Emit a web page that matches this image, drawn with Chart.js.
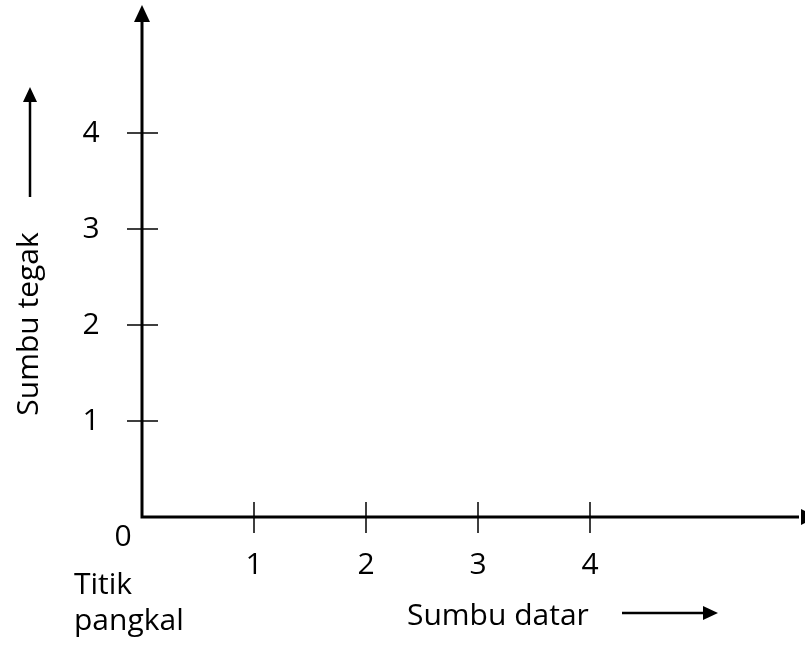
<!DOCTYPE html>
<html>
<head>
<meta charset="utf-8">
<script src="https://cdn.jsdelivr.net/npm/chart.js@4"></script>
<style>
  html, body { margin: 0; padding: 0; background: #fff; }
  canvas { display: block; }
</style>
</head>
<body>
<canvas id="axes-chart" width="805" height="646"></canvas>
<script>
// values
const xTicks = [1, 2, 3, 4];
const yTicks = [1, 2, 3, 4];
const xTickLabels = ['1', '2', '3', '4'];
const yTickLabels = ['1', '2', '3', '4'];
const originLabel = '0';
const originNote = ['Titik', 'pangkal'];
const xTitle = 'Sumbu datar';
const yTitle = 'Sumbu tegak';

const FONT = '30px "Open Sans", sans-serif';

function arrowHead(ctx, tipX, tipY, dir, len, half) {
  ctx.beginPath();
  if (dir === 'up') {
    ctx.moveTo(tipX, tipY);
    ctx.lineTo(tipX - half, tipY + len);
    ctx.lineTo(tipX + half, tipY + len);
  } else {
    ctx.moveTo(tipX, tipY);
    ctx.lineTo(tipX - len, tipY - half);
    ctx.lineTo(tipX - len, tipY + half);
  }
  ctx.closePath();
  ctx.fill();
}

const axesPlugin = {
  id: 'axesPlugin',
  afterDraw(chart) {
    const ctx = chart.ctx;
    const xs = chart.scales.x;
    const ys = chart.scales.y;
    const x0 = xs.getPixelForValue(0);
    const y0 = ys.getPixelForValue(0);
    ctx.save();
    ctx.strokeStyle = '#000';
    ctx.fillStyle = '#000';

    // main axes
    ctx.lineWidth = 3;
    ctx.beginPath();
    ctx.moveTo(x0, y0);
    ctx.lineTo(x0, 20);
    ctx.moveTo(x0 - 1.5, y0);
    ctx.lineTo(chart.width - 6, y0);
    ctx.stroke();
    arrowHead(ctx, x0, 5, 'up', 17, 8);
    arrowHead(ctx, chart.width + 12, y0, 'right', 16, 8);

    // tick marks
    ctx.lineWidth = 1.5;
    ctx.beginPath();
    xTicks.forEach(v => {
      const px = xs.getPixelForValue(v);
      ctx.moveTo(px, y0 - 15);
      ctx.lineTo(px, y0 + 16);
    });
    yTicks.forEach(v => {
      const py = ys.getPixelForValue(v);
      ctx.moveTo(x0 - 15, py);
      ctx.lineTo(x0 + 16, py);
    });
    ctx.stroke();

    // tick labels
    ctx.font = FONT;
    ctx.textAlign = 'center';
    ctx.textBaseline = 'middle';
    xTicks.forEach((v, i) => {
      ctx.fillText(xTickLabels[i], xs.getPixelForValue(v), 565);
    });
    yTicks.forEach((v, i) => {
      ctx.fillText(yTickLabels[i], 91, ys.getPixelForValue(v));
    });
    ctx.fillText(originLabel, 123, 537);

    // origin note
    ctx.textAlign = 'left';
    ctx.textBaseline = 'alphabetic';
    ctx.fillText(originNote[0], 74, 594);
    ctx.fillText(originNote[1], 74, 630);

    // x title + arrow
    ctx.fillText(xTitle, 407, 625);
    ctx.lineWidth = 2.5;
    ctx.beginPath();
    ctx.moveTo(622, 613);
    ctx.lineTo(705, 613);
    ctx.stroke();
    arrowHead(ctx, 718, 613, 'right', 15, 7);

    // y title + arrow
    ctx.save();
    ctx.translate(29, 324);
    ctx.rotate(-Math.PI / 2);
    ctx.textAlign = 'center';
    ctx.textBaseline = 'middle';
    ctx.fillText(yTitle, 0, 0);
    ctx.restore();
    ctx.beginPath();
    ctx.moveTo(30, 197);
    ctx.lineTo(30, 100);
    ctx.stroke();
    arrowHead(ctx, 30, 87, 'up', 15, 7);

    ctx.restore();
  }
};

new Chart(document.getElementById('axes-chart').getContext('2d'), {
  type: 'scatter',
  data: { datasets: [{ data: [] }] },
  options: {
    responsive: false,
    devicePixelRatio: 1,
    animation: false,
    layout: { padding: { left: 142, right: 215, top: 133, bottom: 129 } },
    plugins: { legend: { display: false }, tooltip: { enabled: false } },
    scales: {
      x: { type: 'linear', min: 0, max: 4, display: false },
      y: { type: 'linear', min: 0, max: 4, display: false }
    }
  },
  plugins: [axesPlugin]
});
</script>
</body>
</html>
